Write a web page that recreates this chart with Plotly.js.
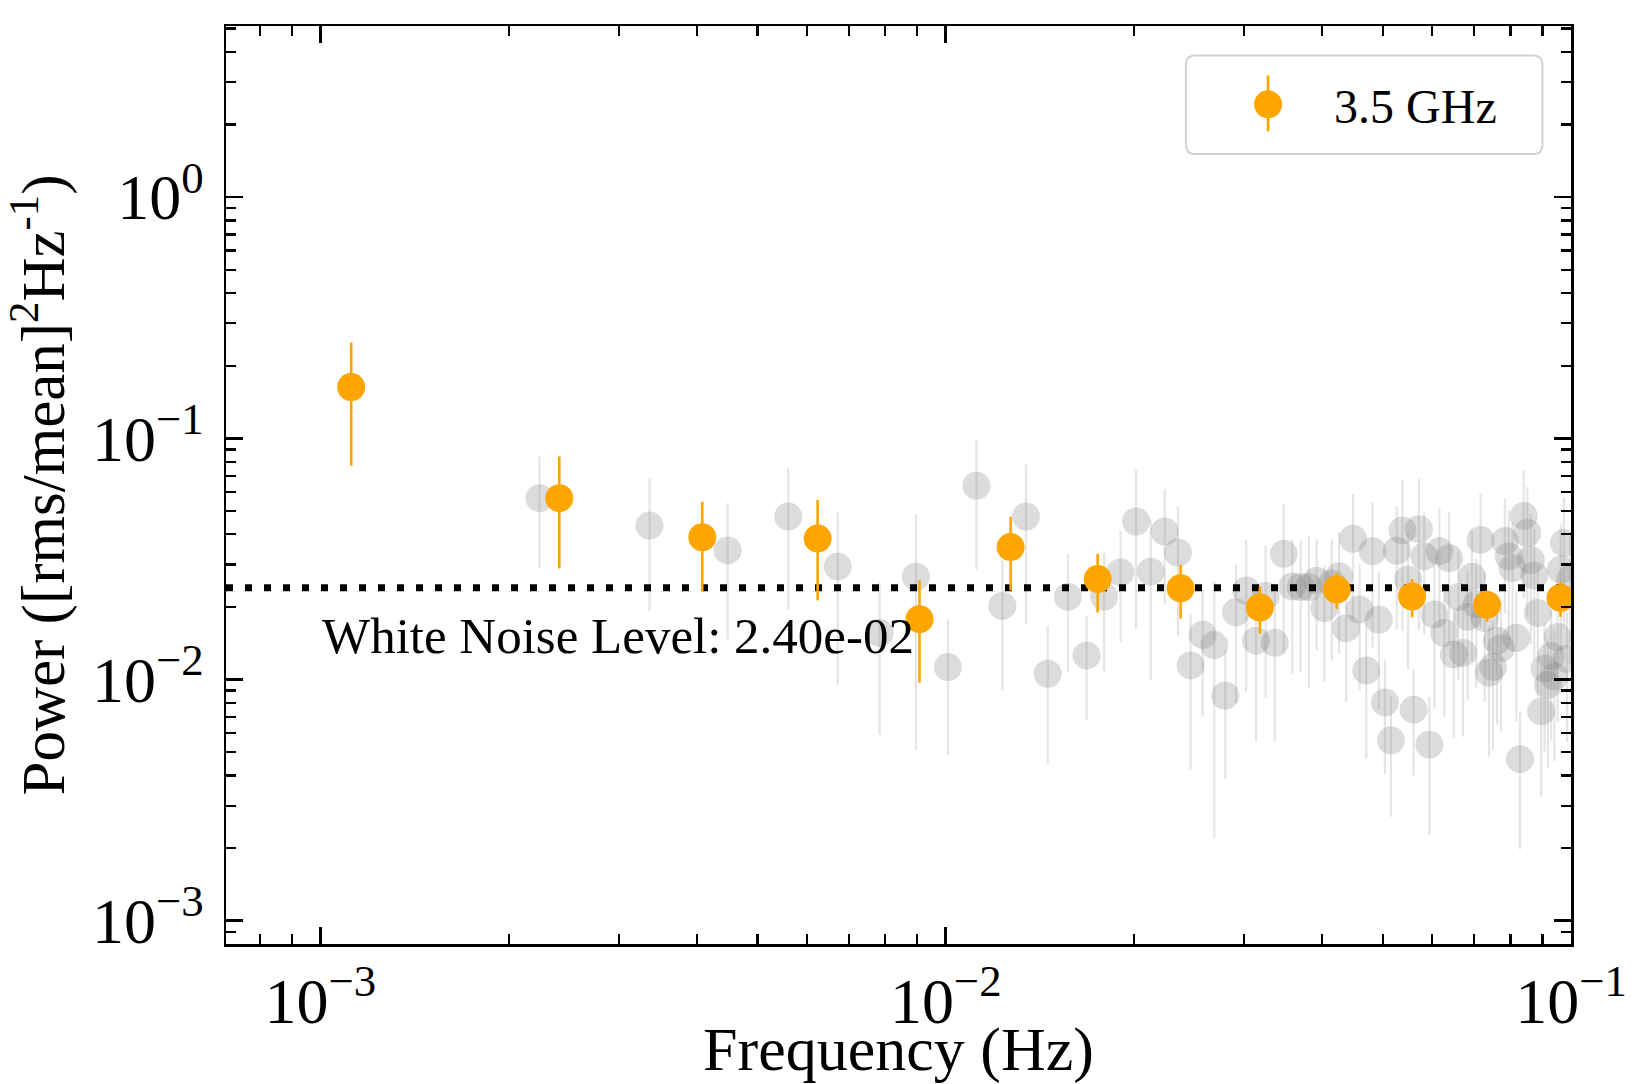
<!DOCTYPE html>
<html>
<head>
<meta charset="utf-8">
<script src="https://cdn.plot.ly/plotly-3.0.1.min.js"></script>
<style>
html,body{margin:0;padding:0;background:#ffffff;}
#chart{width:1645px;height:1084px;}
</style>
</head>
<body>
<div id="chart"></div>
<script>
// ---------------- data ----------------
const seriesName = '3.5 GHz';

// binned (orange) power spectrum
const binFreq  = [0.00112, 0.00241, 0.00408, 0.00624, 0.00908, 0.0127, 0.0175, 0.02375, 0.0318, 0.0422, 0.0557, 0.0734, 0.0962];
const binPower = [0.163, 0.0565, 0.0389, 0.0384, 0.0178, 0.0354, 0.0261, 0.0239, 0.0199, 0.0236, 0.0221, 0.0204, 0.0218];
const binErr   = [0.086, 0.0276, 0.0157, 0.0171, 0.0081, 0.0120, 0.0071, 0.0060, 0.0044, 0.0040, 0.0040, 0.0030, 0.0036];

// unbinned (grey) power spectrum
const rawFreq = [
  0.00112, 0.00224, 0.00336, 0.00448, 0.0056, 0.00672, 0.00784, 0.00896, 0.01008, 0.0112,
  0.01232, 0.01344, 0.01456, 0.01568, 0.0168, 0.01792, 0.01904, 0.02016, 0.02128, 0.0224,
  0.02352, 0.02464, 0.02576, 0.02688, 0.028, 0.02912, 0.03024, 0.03136, 0.03248, 0.0336,
  0.03472, 0.03584, 0.03696, 0.03808, 0.0392, 0.04032, 0.04144, 0.04256, 0.04368, 0.0448,
  0.04592, 0.04704, 0.04816, 0.04928, 0.0504, 0.05152, 0.05264, 0.05376, 0.05488, 0.056,
  0.05712, 0.05824, 0.05936, 0.06048, 0.0616, 0.06272, 0.06384, 0.06496, 0.06608, 0.0672,
  0.06832, 0.06944, 0.07056, 0.07168, 0.0728, 0.07392, 0.07504, 0.07616, 0.07728, 0.0784,
  0.07952, 0.08064, 0.08176, 0.08288, 0.084, 0.08512, 0.08624, 0.08736, 0.08848, 0.0896,
  0.09072, 0.09184, 0.09296, 0.09408, 0.0952, 0.09632, 0.09744, 0.09856, 0.09968
];
const rawPower = [
  0.163, 0.0565, 0.0435, 0.0343, 0.0474, 0.0294, 0.0156, 0.0267, 0.01127, 0.0636,
  0.0202, 0.0474, 0.01057, 0.0220, 0.01256, 0.0221, 0.0278, 0.0452, 0.0280, 0.0411,
  0.0336, 0.01145, 0.01534, 0.0139, 0.00857, 0.0190, 0.0234, 0.0145, 0.0222, 0.0142,
  0.0332, 0.0243, 0.0242, 0.0242, 0.0257, 0.0198, 0.0250, 0.0268, 0.0163, 0.0383,
  0.0195, 0.0109, 0.0340, 0.0177, 0.00804, 0.0056, 0.0342, 0.0415, 0.0260, 0.0075,
  0.0420, 0.0324, 0.00537, 0.0186, 0.0340, 0.0156, 0.0318, 0.0127, 0.0220, 0.0129,
  0.0182, 0.0267, 0.0205, 0.0379, 0.0180, 0.0107, 0.0113, 0.0145, 0.0135, 0.0375,
  0.0324, 0.0290, 0.0149, 0.00468, 0.0477, 0.0405, 0.0313, 0.0270, 0.0189, 0.00738,
  0.0111, 0.0095, 0.0125, 0.0103, 0.0150, 0.0285, 0.0368, 0.0122, 0.0260
];
const rawErr = [
  0.086, 0.0276, 0.0243, 0.0196, 0.0278, 0.0199, 0.0097, 0.0216, 0.0064, 0.0350,
  0.0112, 0.0305, 0.0061, 0.0113, 0.0058, 0.0113, 0.0135, 0.0290, 0.0180, 0.0205,
  0.0185, 0.0072, 0.0083, 0.0117, 0.0047, 0.0110, 0.0145, 0.0090, 0.0138, 0.0087,
  0.0203, 0.0138, 0.0135, 0.0150, 0.0125, 0.0100, 0.0130, 0.0140, 0.0082, 0.0206,
  0.0105, 0.0062, 0.0204, 0.0102, 0.0040, 0.0029, 0.0180, 0.0256, 0.0150, 0.0035,
  0.0260, 0.0170, 0.0031, 0.0110, 0.0174, 0.0086, 0.0175, 0.0070, 0.0121, 0.0071,
  0.0100, 0.0147, 0.0113, 0.0214, 0.0099, 0.0059, 0.0062, 0.0080, 0.0074, 0.0187,
  0.0178, 0.0160, 0.0082, 0.0027, 0.0260, 0.0223, 0.0172, 0.0149, 0.0104, 0.0041,
  0.0061, 0.0052, 0.0069, 0.0057, 0.0083, 0.0157, 0.0202, 0.0067, 0.0143
];

const whiteNoise = 0.024;
const whiteNoiseLabel = 'White Noise Level: 2.40e-02';
const whiteNoiseLabelPos = 0.01509;  // vertical centre of the label (data units)
const whiteNoiseLabelX = 0.001;

// axes
const xTitle = 'Frequency (Hz)';
const yTitle = 'Power ([rms/mean]<sup>2</sup>Hz<sup>-1</sup>)';
const xTickVals = [1e-3, 1e-2, 1e-1];
const xTickText = ['10<sup>\u22123</sup>', '10<sup>\u22122</sup>', '10<sup>\u22121</sup>'];
const yTickVals = [1e-3, 1e-2, 1e-1, 1];
const yTickText = ['10<sup>\u22123</sup>', '10<sup>\u22122</sup>', '10<sup>\u22121</sup>', '10<sup>0</sup>'];
const xLogRange = [-3.151, -1.0];
const yLogRange = [-3.096, 0.709];

// ---------------- helpers ----------------
function minorTicks(lo, hi) {
  const out = [];
  for (let d = Math.floor(lo) - 1; d <= Math.ceil(hi); d++) {
    for (let m = 2; m <= 9; m++) {
      const v = m * Math.pow(10, d);
      const lv = Math.log10(v);
      if (lv > lo && lv < hi) out.push(v);
    }
  }
  return out;
}

const FONT = '"Liberation Serif", "DejaVu Serif", "Times New Roman", serif';
const ORANGE = '#FFA500';

const grey = {
  type: 'scatter', mode: 'markers',
  x: rawFreq, y: rawPower,
  error_y: { type: 'data', array: rawErr, symmetric: true, color: 'rgba(150,150,150,0.25)', thickness: 2.2, width: 0 },
  marker: { size: 28, color: 'rgba(128,128,128,0.28)', line: { width: 0 } },
  showlegend: false, hoverinfo: 'skip'
};

const noiseLine = {
  type: 'scatter', mode: 'lines',
  x: [Math.pow(10, xLogRange[0]), Math.pow(10, xLogRange[1])],
  y: [whiteNoise, whiteNoise],
  line: { color: '#000000', width: 7, dash: '7px,12px' },
  showlegend: false, hoverinfo: 'skip'
};

const orange = {
  type: 'scatter', mode: 'markers', name: seriesName,
  x: binFreq, y: binPower,
  error_y: { type: 'data', array: binErr, symmetric: true, color: ORANGE, thickness: 2.6, width: 0 },
  marker: { size: 28, color: ORANGE, line: { width: 0 } }
};

// rounded legend frame (paper coords)
const lx0 = 0.7137, lx1 = 0.9788, ly0 = 0.8606, ly1 = 0.9680;
const rx = 9 / 1345, ry = 9 / 918;
const framePath = `M ${lx0 + rx},${ly0} L ${lx1 - rx},${ly0} Q ${lx1},${ly0} ${lx1},${ly0 + ry} ` +
  `L ${lx1},${ly1 - ry} Q ${lx1},${ly1} ${lx1 - rx},${ly1} L ${lx0 + rx},${ly1} Q ${lx0},${ly1} ${lx0},${ly1 - ry} ` +
  `L ${lx0},${ly0 + ry} Q ${lx0},${ly0} ${lx0 + rx},${ly0} Z`;

const axisCommon = {
  type: 'log', showgrid: false, zeroline: false,
  showline: true, linecolor: '#000000', linewidth: 2.5, mirror: 'allticks',
  ticks: 'inside', ticklen: 17, tickwidth: 2.8, tickcolor: '#000000',
  tickmode: 'array',
  tickfont: { family: FONT, size: 64, color: '#000000' }
};

const layout = {
  width: 1645, height: 1084,
  margin: { l: 226, r: 74, t: 26, b: 140 },
  paper_bgcolor: '#ffffff', plot_bgcolor: '#ffffff',
  font: { family: FONT, color: '#000000' },
  xaxis: Object.assign({}, axisCommon, {
    range: xLogRange,
    tickvals: xTickVals, ticktext: xTickText,
    ticklabelstandoff: 0,
    minor: { ticks: 'inside', ticklen: 10, tickwidth: 2.3, tickcolor: '#000000', tickmode: 'array', tickvals: minorTicks(xLogRange[0], xLogRange[1]) },
    title: { text: xTitle, font: { family: FONT, size: 62, color: '#000000' }, standoff: 0 }
  }),
  yaxis: Object.assign({}, axisCommon, {
    range: yLogRange,
    tickvals: yTickVals, ticktext: yTickText,
    ticklabelstandoff: 7,
    minor: { ticks: 'inside', ticklen: 10, tickwidth: 2.3, tickcolor: '#000000', tickmode: 'array', tickvals: minorTicks(yLogRange[0], yLogRange[1]) },
    title: { text: yTitle, font: { family: FONT, size: 61, color: '#000000' }, standoff: 10 }
  }),
  showlegend: true,
  legend: {
    x: lx0 + 0.012, y: (ly0 + ly1) / 2, xanchor: 'left', yanchor: 'middle',
    bgcolor: 'rgba(0,0,0,0)', borderwidth: 0,
    font: { family: FONT, size: 48, color: '#000000' },
    itemwidth: 122
  },
  shapes: [{
    type: 'path', xref: 'paper', yref: 'paper', path: framePath,
    fillcolor: 'rgba(255,255,255,0.85)', line: { color: '#d2d2d2', width: 2 }, layer: 'above'
  }],
  annotations: [{
    xref: 'x', yref: 'y',
    x: Math.log10(whiteNoiseLabelX), y: Math.log10(whiteNoiseLabelPos),
    xanchor: 'left', yanchor: 'middle', showarrow: false,
    text: whiteNoiseLabel,
    font: { family: FONT, size: 51, color: '#000000' }
  }]
};

Plotly.newPlot('chart', [grey, noiseLine, orange], layout, { displayModeBar: false, staticPlot: true })
  .then(function (gd) {
    // enlarge the legend glyph to match the plotted marker and add its error bar
    const ns = 'http://www.w3.org/2000/svg';
    gd.querySelectorAll('.legend .legendpoints path.scatterpts').forEach(function (p) {
      const r = 14;
      p.setAttribute('d', 'M' + r + ',0A' + r + ',' + r + ' 0 1,1 0,-' + r + 'A' + r + ',' + r + ' 0 0,1 ' + r + ',0Z');
      const ln = document.createElementNS(ns, 'line');
      ln.setAttribute('x1', 0); ln.setAttribute('x2', 0);
      ln.setAttribute('y1', -29); ln.setAttribute('y2', 27);
      ln.setAttribute('stroke', ORANGE); ln.setAttribute('stroke-width', 2.6);
      const tr = p.getAttribute('transform');
      if (tr) ln.setAttribute('transform', tr);
      p.parentNode.insertBefore(ln, p);
    });
  });
</script>
</body>
</html>
